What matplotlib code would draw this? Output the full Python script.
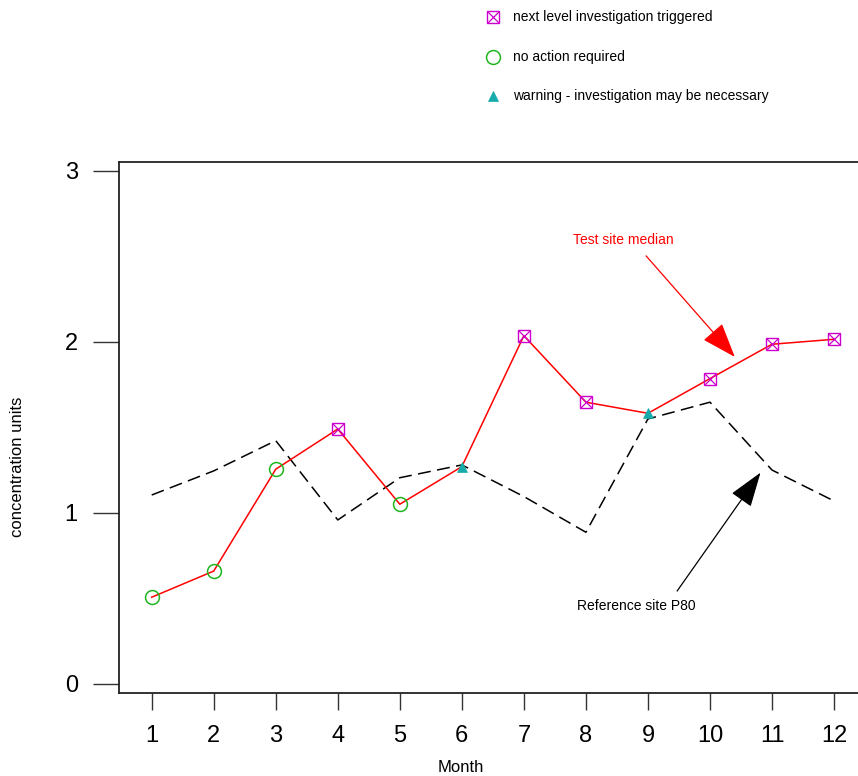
"""Monthly test-site median against the reference-site P80, with trigger status markers."""

import matplotlib

matplotlib.use("Agg")
import matplotlib.pyplot as plt

plt.rcParams["font.family"] = ["Liberation Sans", "DejaVu Sans"]

MONTHS = list(range(1, 13))
TEST_MEDIAN = [0.506, 0.659, 1.255, 1.490, 1.050, 1.27, 2.036, 1.647, 1.582, 1.785, 1.986, 2.015]
REF_P80 = [1.104, 1.245, 1.422, 0.958, 1.205, 1.28, 1.095, 0.886, 1.549, 1.647, 1.250, 1.069]
STATUS = ["ok", "ok", "ok", "next", "ok", "warn", "next", "next", "warn", "next", "next", "next"]
Y_TICKS = [0, 1, 2, 3]

STATUS_LABELS = {
    "next": "next level investigation triggered",
    "ok": "no action required",
    "warn": "warning - investigation may be necessary",
}
MAGENTA = "#CC00CC"
GREEN = "#1FB51F"
TEAL = "#17ABAB"


def draw_marker(ax, x, y, status, clip=True):
    if status == "next":
        ax.plot(x, y, "s", ms=8, mfc="none", mec=MAGENTA, mew=1.0, zorder=5, clip_on=clip)
        ax.plot(x, y, "x", ms=8, mec=MAGENTA, mew=0.9, zorder=5, clip_on=clip)
    elif status == "ok":
        ax.plot(x, y, "o", ms=10, mfc="none", mec=GREEN, mew=1.1, zorder=5, clip_on=clip)
    else:
        ax.plot(x, y, "^", ms=7.5, mfc=TEAL, mec=TEAL, mew=0.5, zorder=5, clip_on=clip)


fig = plt.figure(figsize=(8.58, 7.76), dpi=100)
# box runs off the right edge of the picture, as in the original
ax = fig.add_axes([119 / 858, 83.3 / 776, 780 / 858, 531 / 776])

ax.plot(MONTHS, REF_P80, color="black", lw=1.1, dashes=(8.5, 4.2), zorder=2)
ax.plot(MONTHS, TEST_MEDIAN, color="red", lw=1.1, zorder=3)
for m, v, s in zip(MONTHS, TEST_MEDIAN, STATUS):
    draw_marker(ax, m, v, s)

# annotations
ax.annotate(
    "", xy=(10.40, 1.912), xytext=(8.97, 2.503),
    arrowprops=dict(arrowstyle="-|>,head_length=2.2,head_width=0.8", color="red",
                    lw=0.9, shrinkA=0, shrinkB=0, mutation_scale=10),
)
ax.text(8.60, 2.595, "Test site median", color="red", fontsize=10, ha="center", va="center")
ax.annotate(
    "", xy=(10.815, 1.235), xytext=(9.47, 0.542),
    arrowprops=dict(arrowstyle="-|>,head_length=2.2,head_width=0.75", color="black",
                    lw=0.9, shrinkA=0, shrinkB=0, mutation_scale=10),
)
ax.text(8.82, 0.455, "Reference site P80", color="black", fontsize=10, ha="center", va="center")

# legend above the plot box
legend_y = [3.901, 3.667, 3.437]
for s, ly in zip(["next", "ok", "warn"], legend_y):
    draw_marker(ax, 6.50, ly, s, clip=False)
    ax.text(6.825, ly, STATUS_LABELS[s], fontsize=10, ha="left", va="center", clip_on=False)

ax.set_xlim(0.4728, 0.4728 + 780 / 62.03)
ax.set_ylim(-0.0527, 3.054)
ax.set_xticks(MONTHS)
ax.set_yticks(Y_TICKS)
ax.tick_params(axis="x", length=12, width=1, pad=11, labelsize=17, color="#333333")
ax.tick_params(axis="y", length=18.7, width=1, pad=11, labelsize=17, color="#333333")
for side in ["left", "bottom", "top", "right"]:
    ax.spines[side].set_linewidth(1.3)
    ax.spines[side].set_color("#222222")

fig.text(461 / 858, 1 - 768 / 776, "Month", fontsize=12, ha="center", va="center")
fig.text(18 / 858, 1 - 467 / 776, "concentration units", fontsize=12, rotation=90,
         ha="center", va="center")

fig.savefig("out.png", dpi=100)
print("saved out.png")
